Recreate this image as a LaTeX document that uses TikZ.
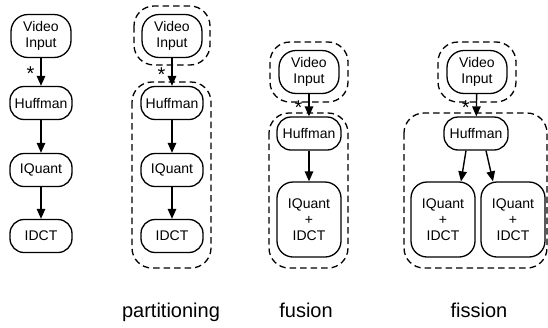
\documentclass[tikz,border=0pt]{standalone}
\usepackage{fontspec}
\setmainfont{Liberation Sans}
\usetikzlibrary{arrows.meta}
\begin{document}
\begin{tikzpicture}[x=1pt,y=-1pt,
  box/.style={draw, line width=1.3pt, rounded corners=14pt, minimum width=62pt, minimum height=33pt, inner sep=0pt, align=center, font=\fontsize{14}{16}\selectfont},
  vibox/.style={box, rounded corners=17pt, minimum width=60pt, minimum height=43pt},
  tallbox/.style={box, rounded corners=16pt, minimum width=64pt, minimum height=75pt},
  arr/.style={-{Triangle[length=10pt,width=8.5pt]}, line width=1.4pt},
  ring/.style={draw, dash pattern=on 6.5pt off 4pt, line width=1.3pt, rounded corners=20pt},
  starlab/.style={font=\fontsize{20}{20}\selectfont, inner sep=0pt, anchor=east, xshift=-6pt},
  lab/.style={font=\fontsize{20}{24}\selectfont, anchor=base}
]
\useasboundingbox (0,0) rectangle (548,327);

% column 1
\node[vibox] (vi1) at (41,36) {Video\\Input};
\node[box] (h1) at (41,103) {Huffman};
\node[box] (q1) at (41,170) {IQuant};
\node[box] (d1) at (41,236) {IDCT};
\draw[arr] (vi1) -- node[starlab, pos=0.55] {*} (h1);
\draw[arr] (h1) -- (q1);
\draw[arr] (q1) -- (d1);

% column 2: partitioning
\node[vibox] (vi2) at (172,36) {Video\\Input};
\node[box] (h2) at (172,103) {Huffman};
\node[box] (q2) at (172,170) {IQuant};
\node[box] (d2) at (172,236) {IDCT};
\draw[ring] (134,6) rectangle (210,65);
\draw[ring] (132,82) rectangle (211,268);
\draw[arr] (vi2) -- node[starlab, pos=0.6] {*} (h2);
\draw[arr] (h2) -- (q2);
\draw[arr] (q2) -- (d2);
\node[lab] (l2) at (171,317) {partitioning};

% column 3: fusion
\node[vibox] (vi3) at (309,72) {Video\\Input};
\node[box, minimum width=64pt] (h3) at (309,133.5) {Huffman};
\node[tallbox] (q3) at (309,219.5) {IQuant\\+\\IDCT};
\draw[ring] (270,42) rectangle (348,102);
\draw[ring] (269,113) rectangle (348,268);
\draw[arr] (vi3) -- node[starlab, pos=0.6] {*} (h3);
\draw[arr] (h3) -- (q3);
\node[lab] (l3) at (306,317) {fusion};

% column 4: fission
\node[vibox] (vi4) at (477,72) {Video\\Input};
\node[box, minimum width=64pt] (h4) at (476,133.5) {Huffman};
\node[tallbox] (qa) at (443,219.5) {IQuant\\+\\IDCT};
\node[tallbox] (qb) at (513,219.5) {IQuant\\+\\IDCT};
\draw[ring] (438,42) rectangle (516,102);
\draw[ring] (404,113) rectangle (547,268);
\draw[arr] (vi4) -- node[starlab, pos=0.6] {*} (h4);
\draw[arr] ([xshift=-10pt]h4.south) -- ([xshift=18pt]qa.north);
\draw[arr] ([xshift=10pt]h4.south) -- ([xshift=-20pt]qb.north);
\node[lab] (l4) at (479,317) {fission};
\end{tikzpicture}
\end{document}
